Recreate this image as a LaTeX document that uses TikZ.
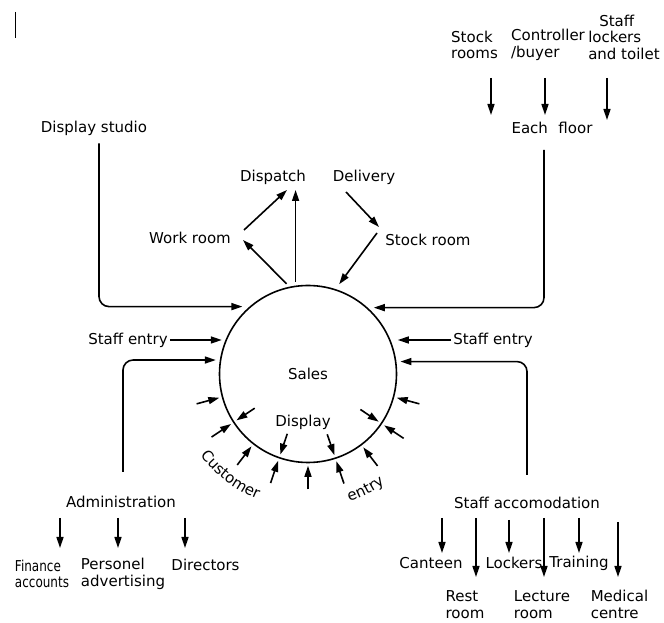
\documentclass[tikz,border=0pt]{standalone}
\usepackage{fontspec}
\setmainfont{DejaVu Sans}
\usetikzlibrary{arrows.meta,decorations.text}
\begin{document}
\begin{tikzpicture}[x=1pt,y=1pt,
  every node/.style={font=\fontsize{15}{16.5}\selectfont, inner sep=2pt},
  ln/.style={line width=1.6pt},
  flow/.style={ln, -{Triangle[length=11pt,width=7pt]}},
  stack/.style={align=left}]
\useasboundingbox (0,0) rectangle (664,623);
% central circle
\node[circle, draw, line width=1.6pt, minimum size=177pt, inner sep=0pt] (sales) at (308,249) {Sales};
\node (display) at (303,201) {Display};
% customer entry arrows (outside, pointing in)
\foreach \a in {195,213.75,232.5,251.25,270,288.75,307.5,326.25,345}
  \draw[flow, shorten >=2.5pt] ([shift={(\a:26)}]sales.\a) -- (sales.\a);
% display arrows (inside, pointing out)
\foreach \a [evaluate=\a as \b using \a+180] in {213.75,251.25,288.75,326.25}
  \draw[flow, shorten >=4pt] ([shift={(\b:26)}]sales.\a) -- (sales.\a);
\path[decorate, decoration={text along path, text align=center,
  text={|\fontsize{15}{16.5}\selectfont|Customer}}]
  (sales.center) ++(207:135) arc[start angle=207, end angle=258, radius=135];
\path[decorate, decoration={text along path, text align=center,
  text={|\fontsize{15}{16.5}\selectfont|entry}}]
  (sales.center) ++(280:134) arc[start angle=280, end angle=313, radius=134];
% top centre
\node (workroom) at (190,385) {Work room};
\node (dispatch) at (273,446) {Dispatch};
\node (delivery) at (364,446) {Delivery};
\node (stockroom) at (428,383) {Stock room};
\coordinate (wdS) at (244,393);
\coordinate (wdE) at (287,433);
\coordinate (cwE) at (243,383);
\coordinate (cdE) at (296,433);
\coordinate (dsS) at (346,431);
\coordinate (dsE) at (379,396);
\coordinate (scS) at (377,390);
\draw[flow] (wdS) -- (wdE);
\draw[flow, shorten <=4pt] (sales.102) -- (cwE);
\draw[flow, shorten <=4pt] (sales.98) -- (sales.98 |- cdE);
\draw[flow] (dsS) -- (dsE);
\draw[flow, shorten >=6pt] (scS) -- (sales.72);
% display studio
\node (dstudio) at (94,495) {Display studio};
\draw[flow, rounded corners=10pt, shorten >=7pt] ([xshift=5pt,yshift=-6pt]dstudio.south) |- (sales.131);
% each floor group
\node[stack] (stockrooms) at (474.5,578) {Stock\\rooms};
\node[stack] (controller) at (548,578) {Controller\\/buyer};
\node[stack] (stafflock) at (624,586) {\hspace*{11pt}Staff\\lockers\\and toilet};
\node (efloor) at (552,495) {Each\hspace{0.7em}floor};
\coordinate (t1a) at (491,545); \coordinate (t1b) at (491,508);
\coordinate (t2a) at (545,545); \coordinate (t2b) at (545,508);
\coordinate (t3a) at (607,545); \coordinate (t3b) at (607,503);
\draw[flow] (t1a) -- (t1b);
\draw[flow] (t2a) -- (t2b);
\draw[flow] (t3a) -- (t3b);
\draw[flow, rounded corners=10pt, shorten >=6pt] ([xshift=-8pt,yshift=-14pt]efloor.south) |- (sales.48);
% staff entries
\node (se1) at (128,283) {Staff entry};
\node (se2) at (493,283) {Staff entry};
\draw[flow, shorten >=4pt] (se1.east) -- (se1.east -| sales.157);
\draw[flow, shorten >=7pt] (se2.west) -- (se2.west -| sales.22);
% administration
\node (admin) at (121,121) {Administration};
\draw[flow, rounded corners=10pt, shorten >=4pt] ([xshift=2pt,yshift=22pt]admin.north) |- (sales.171);
\node[stack] (finance) at (42,49) {\scalebox{0.8}[1]{Finance}\\\scalebox{0.8}[1]{accounts}};
\node[stack] (personel) at (123,49) {Personel\\advertising};
\node (directors) at (205.5,58) {Directors};
\coordinate (b1a) at (60,105); \coordinate (b1b) at (60,75);
\coordinate (b2a) at (118,105); \coordinate (b2b) at (118,75);
\coordinate (b3a) at (185,105); \coordinate (b3b) at (185,75);
\draw[flow] (b1a) -- (b1b);
\draw[flow] (b2a) -- (b2b);
\draw[flow] (b3a) -- (b3b);
% staff accomodation
\node (sacc) at (527,120) {Staff accomodation};
\draw[flow, rounded corners=10pt, shorten >=4pt] ([yshift=20pt]sacc.north) |- (sales.8);
\node (canteen) at (431,60) {Canteen};
\node (lockers) at (514,60) {Lockers};
\node (training) at (579,60) {Training};
\node[stack] (rest) at (465,18.5) {Rest\\room};
\node[stack] (lecture) at (542,18.5) {Lecture\\room};
\node[stack] (medical) at (619.5,18.5) {Medical\\centre};
\coordinate (r1a) at (442,105); \coordinate (r1b) at (442,70);
\coordinate (r2a) at (476,105); \coordinate (r2b) at (476,46);
\coordinate (r3a) at (509,103); \coordinate (r3b) at (509,70);
\coordinate (r4a) at (544,105); \coordinate (r4b) at (544,46);
\coordinate (r5a) at (579,105); \coordinate (r5b) at (579,70);
\coordinate (r6a) at (618,101); \coordinate (r6b) at (618,46);
\foreach \p in {r1,r2,r3,r4,r5,r6}
  \draw[flow] (\p a) -- (\p b);
% scan mark at top left
\draw[line width=1pt] (15,611) -- (15,585);
\end{tikzpicture}
\end{document}
